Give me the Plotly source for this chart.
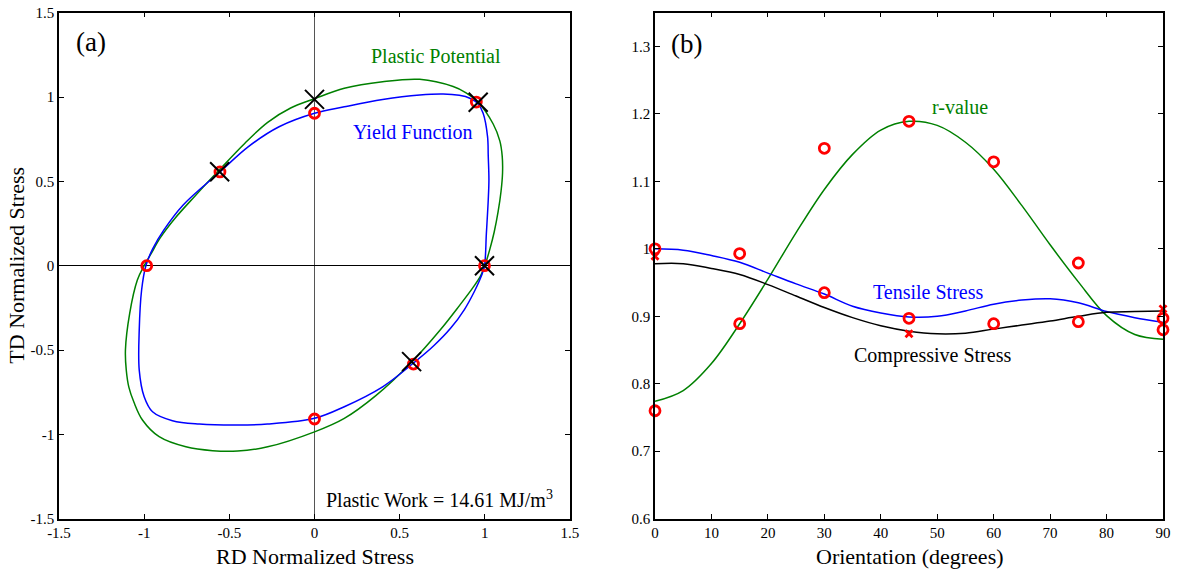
import plotly.graph_objects as go

# ---------------- Panel (a) data ----------------
yield_x = [0.998, 1.009, 1.02, 1.024, 1.02, 1.016, 0.99, 0.96, 0.912, 0.85, 0.755, 0.618, 0.40, 0.175, 0.0,
           -0.208, -0.388, -0.555, -0.771, -0.884, -0.95, -0.99, -1.015, -1.029, -1.029, -1.0, -0.951,
           -0.834, -0.676, -0.451, -0.276, 0.0, 0.175, 0.40, 0.578, 0.70, 0.80, 0.88, 0.94, 0.98, 0.998]
yield_y = [0.0, 0.19, 0.39, 0.51, 0.65, 0.765, 0.904, 0.96, 0.993, 1.01, 1.018, 1.012, 0.985, 0.942, 0.904,
           0.824, 0.706, 0.556, 0.36, 0.212, 0.1, 0.0, -0.144, -0.381, -0.619, -0.777, -0.866,
           -0.919, -0.939, -0.945, -0.939, -0.905, -0.836, -0.718, -0.58, -0.475, -0.37, -0.26, -0.15, -0.06, 0.0]

potential_x = [1.0, 1.03, 1.055, 1.078, 1.095, 1.104, 1.102, 1.088, 1.049, 0.961, 0.89, 0.814, 0.618, 0.40,
               0.175, 0.0, -0.14, -0.275, -0.41, -0.557, -0.70, -0.82, -0.906, -0.96, -1.0, -1.04, -1.085,
               -1.11, -1.105, -1.09, -1.06, -1.01, -0.912, -0.755, -0.598, -0.451, -0.275, 0.0, 0.175, 0.36,
               0.57, 0.739, 0.852, 0.93, 0.975, 1.0]
potential_y = [0.0, 0.1, 0.2, 0.32, 0.44, 0.55, 0.65, 0.74, 0.84, 0.969, 1.025, 1.062, 1.105, 1.091,
               1.052, 0.99, 0.935, 0.85, 0.725, 0.57, 0.415, 0.28, 0.165, 0.07, 0.0, -0.085, -0.282,
               -0.5, -0.62, -0.72, -0.81, -0.915, -1.014, -1.074, -1.097, -1.099, -1.074, -0.985, -0.905, -0.77,
               -0.572, -0.38, -0.235, -0.13, -0.06, 0.0]

exp_yield_x = [0.998, 0.95, 0.0, -0.555, -0.985, 0.0, 0.581]
exp_yield_y = [0.0, 0.97, 0.904, 0.556, 0.0, -0.909, -0.583]

model_pts_x = [0.0, 0.961, -0.557, 0.998, 0.57]
model_pts_y = [0.986, 0.969, 0.557, 0.0, -0.569]

ticks_a = [-1.5, -1, -0.5, 0, 0.5, 1, 1.5]
ticks_a_text = ["-1.5", "-1", "-0.5", "0", "0.5", "1", "1.5"]

# ---------------- Panel (b) data ----------------
angles = [0, 5, 10, 15, 20, 25, 30, 35, 40, 45, 50, 55, 60, 65, 70, 75, 80, 85, 90]
r_value = [0.774, 0.790, 0.830, 0.889, 0.955, 1.024, 1.088, 1.140, 1.176, 1.189, 1.183, 1.158, 1.118,
           1.064, 1.006, 0.951, 0.901, 0.873, 0.866]
tensile = [1.0, 0.998, 0.99, 0.980, 0.964, 0.948, 0.933, 0.915, 0.905, 0.899, 0.900, 0.908, 0.918,
           0.924, 0.926, 0.920, 0.907, 0.898, 0.891]
compressive = [0.978, 0.978, 0.971, 0.962, 0.947, 0.930, 0.913, 0.898, 0.886, 0.878, 0.874, 0.875, 0.881,
               0.887, 0.893, 0.900, 0.906, 0.907, 0.908]

exp_angles = [0, 15, 30, 45, 60, 75, 90]
r_exp = [0.76, 0.889, 1.149, 1.189, 1.129, 0.979, 0.880]
tensile_exp = [1.0, 0.993, 0.935, 0.897, 0.889, 0.892, 0.897]
comp_angles = [0, 45, 90]
comp_exp = [0.989, 0.874, 0.911]

ticks_b_x = [0, 10, 20, 30, 40, 50, 60, 70, 80, 90]
ticks_b_y = [0.6, 0.7, 0.8, 0.9, 1.0, 1.1, 1.2, 1.3]
ticks_b_y_text = ["0.6", "0.7", "0.8", "0.9", "1", "1.1", "1.2", "1.3"]

FONT = "Liberation Serif, Times New Roman, serif"
GREEN = "#008000"
BLUE = "#0000ff"
RED = "#ff0000"

fig = go.Figure()

line_style = dict(width=1.5, shape="spline", smoothing=1.0)

# Panel (a)
fig.add_trace(go.Scatter(x=potential_x, y=potential_y, mode="lines", line=dict(color=GREEN, **line_style),
                         xaxis="x", yaxis="y", showlegend=False, hoverinfo="skip"))
fig.add_trace(go.Scatter(x=yield_x, y=yield_y, mode="lines", line=dict(color=BLUE, **line_style),
                         xaxis="x", yaxis="y", showlegend=False, hoverinfo="skip"))
fig.add_trace(go.Scatter(x=exp_yield_x, y=exp_yield_y, mode="markers", cliponaxis=False,
                         marker=dict(symbol="circle-open", size=10, color=RED, line=dict(width=2.8, color=RED)),
                         xaxis="x", yaxis="y", showlegend=False))
fig.add_trace(go.Scatter(x=model_pts_x, y=model_pts_y, mode="markers", cliponaxis=False,
                         marker=dict(symbol="x-thin", size=19, color="black", line=dict(width=2, color="black")),
                         xaxis="x", yaxis="y", showlegend=False))

# Panel (b)
fig.add_trace(go.Scatter(x=angles, y=r_value, mode="lines", line=dict(color=GREEN, **line_style),
                         xaxis="x2", yaxis="y2", showlegend=False))
fig.add_trace(go.Scatter(x=angles, y=tensile, mode="lines", line=dict(color=BLUE, **line_style),
                         xaxis="x2", yaxis="y2", showlegend=False))
fig.add_trace(go.Scatter(x=angles, y=compressive, mode="lines", line=dict(color="black", **line_style),
                         xaxis="x2", yaxis="y2", showlegend=False))
fig.add_trace(go.Scatter(x=comp_angles, y=comp_exp, mode="markers", cliponaxis=False,
                         marker=dict(symbol="x-thin", size=7, color=RED, line=dict(width=2.8, color=RED)),
                         xaxis="x2", yaxis="y2", showlegend=False))
fig.add_trace(go.Scatter(x=exp_angles, y=r_exp, mode="markers", cliponaxis=False,
                         marker=dict(symbol="circle-open", size=10, color=RED, line=dict(width=2.8, color=RED)),
                         xaxis="x2", yaxis="y2", showlegend=False))
fig.add_trace(go.Scatter(x=exp_angles, y=tensile_exp, mode="markers", cliponaxis=False,
                         marker=dict(symbol="circle-open", size=10, color=RED, line=dict(width=2.8, color=RED)),
                         xaxis="x2", yaxis="y2", showlegend=False))

axis_common = dict(showline=True, linecolor="black", linewidth=1.5, mirror="ticks", ticks="inside",
                   ticklen=5, tickwidth=1, tickcolor="black", showgrid=False, automargin=False,
                   tickfont=dict(family=FONT, size=15, color="black"))

fig.update_layout(
    template="none",
    width=1177, height=573,
    margin=dict(l=0, r=0, t=0, b=0, autoexpand=False),
    paper_bgcolor="white", plot_bgcolor="white",
    font=dict(family=FONT, color="black"),
    xaxis=dict(domain=[0.05013, 0.48428], range=[-1.5, 1.5], tickvals=ticks_a, ticktext=ticks_a_text,
               zeroline=True, zerolinecolor="#555555", zerolinewidth=1, anchor="y", **axis_common),
    yaxis=dict(domain=[0.09476, 0.97784], range=[-1.5, 1.5], tickvals=ticks_a, ticktext=ticks_a_text,
               zeroline=True, zerolinecolor="black", zerolinewidth=1, anchor="x", **axis_common),
    xaxis2=dict(domain=[0.55650, 0.98811], range=[0, 90], tickvals=ticks_b_x,
                zeroline=False, anchor="y2", **axis_common),
    yaxis2=dict(domain=[0.09476, 0.97784], range=[0.6, 1.35], tickvals=ticks_b_y, ticktext=ticks_b_y_text,
                zeroline=False, anchor="x2", **axis_common),
)

annotations = [
    dict(text="(a)", x=-1.31, y=1.328, xref="x", yref="y", font=dict(size=27, color="black")),
    dict(text="Plastic Potential", x=0.714, y=1.241, xref="x", yref="y", font=dict(size=20, color=GREEN)),
    dict(text="Yield Function", x=0.576, y=0.795, xref="x", yref="y", font=dict(size=20, color=BLUE)),
    dict(text="Plastic Work = 14.61 MJ/m<sup>3</sup>", x=0.735, y=-1.383, xref="x", yref="y",
         font=dict(size=20, color="black")),
    dict(text="(b)", x=5.5, y=1.304, xref="x2", yref="y2", font=dict(size=27, color="black")),
    dict(text="r-value", x=54.0, y=1.210, xref="x2", yref="y2", font=dict(size=20, color=GREEN)),
    dict(text="Tensile Stress", x=48.3, y=0.936, xref="x2", yref="y2", font=dict(size=20, color=BLUE)),
    dict(text="Compressive Stress", x=49.1, y=0.842, xref="x2", yref="y2", font=dict(size=20, color="black")),
    dict(text="RD Normalized Stress", x=315 / 1177, y=(573 - 556.5) / 573, xref="paper", yref="paper",
         font=dict(size=22, color="black")),
    dict(text="Orientation (degrees)", x=910 / 1177, y=(573 - 556.5) / 573, xref="paper", yref="paper",
         font=dict(size=22, color="black")),
    dict(text="TD Normalized Stress", x=17 / 1177, y=(573 - 265.7) / 573, xref="paper", yref="paper",
         textangle=-90, font=dict(size=22, color="black")),
]
for a in annotations:
    a.update(showarrow=False, xanchor="center", yanchor="middle")
    a["font"]["family"] = FONT
fig.update_layout(annotations=annotations)

fig.write_html("out.html")
